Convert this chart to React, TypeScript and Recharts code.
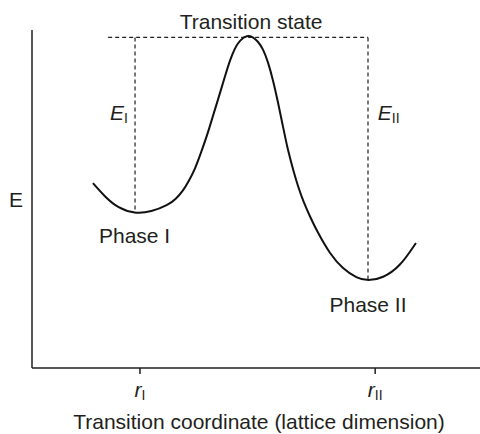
import { LineChart, Line, XAxis, YAxis, ReferenceLine, ReferenceDot, Label } from 'recharts';

// energy profile along the transition coordinate (arbitrary units, 0..10)
const coordinate = [
  1.36, 1.63, 1.92, 2.3, 2.66, 3.04, 3.21, 3.37, 3.5, 3.64, 3.77, 3.91, 4.04, 4.17, 4.31,
  4.42, 4.53, 4.64, 4.8, 4.93, 5.04, 5.16, 5.27, 5.38, 5.49, 5.6, 5.71, 5.83, 5.94, 6.07,
  6.21, 6.36, 6.65, 6.94, 7.25, 7.5, 7.83, 8.21, 8.57,
];
const energy = [
  5.47, 5.06, 4.73, 4.56, 4.62, 4.82, 5.0, 5.24, 5.53, 5.89, 6.36, 6.89, 7.46, 8.02, 8.64,
  9.11, 9.47, 9.7, 9.85, 9.79, 9.67, 9.44, 9.05, 8.52, 7.87, 7.16, 6.45, 5.86, 5.36, 4.88,
  4.47, 4.05, 3.37, 2.93, 2.66, 2.57, 2.66, 2.99, 3.7,
];

const tickPositions = [2.41, 7.66];
const tickSubscripts = ['I', 'II'];

// the two minima and the transition state level
const minimaX = [2.3, 7.5];
const minimaE = [4.58, 2.6];
const transitionE = 9.78;
const dashStartX = 1.7;

const phaseLabels = ['Phase I', 'Phase II'];
const phaseLabelX = [2.29, 7.5];
const phaseLabelE = [3.7, 1.66];

const barrierSubs = ['I', 'II'];
const barrierLabelX = [1.74, 7.72];
const barrierLabelE = [7.34, 7.34];

const data = coordinate.map((x, i) => ({ x, e: energy[i] }));

const FONT = '"Liberation Sans", Arial, Helvetica, sans-serif';
const INK = '#231f20';

const RTick = (props: any) => {
  const { x, y, payload } = props;
  const sub = tickSubscripts[tickPositions.indexOf(payload.value)];
  return (
    <text x={x} y={y} dy={21} textAnchor='middle' fontFamily={FONT} fontSize={21} fill={INK}>
      <tspan fontStyle='italic'>r</tspan>
      <tspan fontSize={14} dy={3}>{sub}</tspan>
    </text>
  );
};

const textShape = (content: any, anchor: string) => (p: any) => (
  <text x={p.cx} y={p.cy} textAnchor={anchor} fontFamily={FONT} fontSize={21} fill={INK}>
    {content}
  </text>
);

function App() {
  return (
    <div style={{ position: 'absolute', left: 0, top: 0, background: '#fff' }}>
      <LineChart
        width={480}
        height={434}
        data={data}
        margin={{ top: 30, right: 0, bottom: 0, left: 31 }}
      >
        <XAxis
          dataKey='x'
          type='number'
          domain={[0, 10]}
          ticks={tickPositions}
          tick={<RTick />}
          tickSize={6}
          height={66}
          axisLine={{ stroke: INK, strokeWidth: 1.5 }}
          tickLine={{ stroke: INK, strokeWidth: 1.5 }}
        >
          <Label
            content={(p: any) => (
              <text
                x={p.viewBox.x + p.viewBox.width / 2 + 3}
                y={p.viewBox.y + p.viewBox.height - 5}
                textAnchor='middle'
                fontFamily={FONT}
                fontSize={21}
                fill={INK}
              >
                Transition coordinate (lattice dimension)
              </text>
            )}
          />
        </XAxis>
        <YAxis
          type='number'
          domain={[0, 10]}
          width={1}
          tick={false}
          tickLine={false}
          axisLine={{ stroke: INK, strokeWidth: 1.5 }}
        >
          <Label
            content={(p: any) => (
              <text
                x={p.viewBox.x + p.viewBox.width - 9}
                y={p.viewBox.y + p.viewBox.height / 2 + 8}
                textAnchor='end'
                fontFamily={FONT}
                fontSize={21}
                fill={INK}
              >
                E
              </text>
            )}
          />
        </YAxis>

        <ReferenceLine
          segment={[
            { x: dashStartX, y: transitionE },
            { x: minimaX[1], y: transitionE },
          ]}
          stroke={INK}
          strokeWidth={1.2}
          strokeDasharray='4 3'
        />
        {minimaX.map((mx, i) => (
          <ReferenceLine
            key={'v' + i}
            segment={[
              { x: mx, y: transitionE },
              { x: mx, y: minimaE[i] },
            ]}
            stroke={INK}
            strokeWidth={1.2}
            strokeDasharray='4 3'
          />
        ))}

        <Line
          type='basis'
          dataKey='e'
          stroke='#111'
          strokeWidth={2}
          dot={false}
          isAnimationActive={false}
        />

        <ReferenceDot
          x={4.89}
          y={10.03}
          r={0}
          ifOverflow='visible'
          shape={textShape('Transition state', 'middle')}
        />
        {phaseLabels.map((t, i) => (
          <ReferenceDot
            key={t}
            x={phaseLabelX[i]}
            y={phaseLabelE[i]}
            r={0}
            shape={textShape(t, 'middle')}
          />
        ))}
        {barrierSubs.map((s, i) => (
          <ReferenceDot
            key={'E' + s}
            x={barrierLabelX[i]}
            y={barrierLabelE[i]}
            r={0}
            shape={textShape(
              <>
                <tspan fontStyle='italic'>E</tspan>
                <tspan fontSize={14} dy={3}>{s}</tspan>
              </>,
              'start'
            )}
          />
        ))}
      </LineChart>
    </div>
  );
}

export default App;
